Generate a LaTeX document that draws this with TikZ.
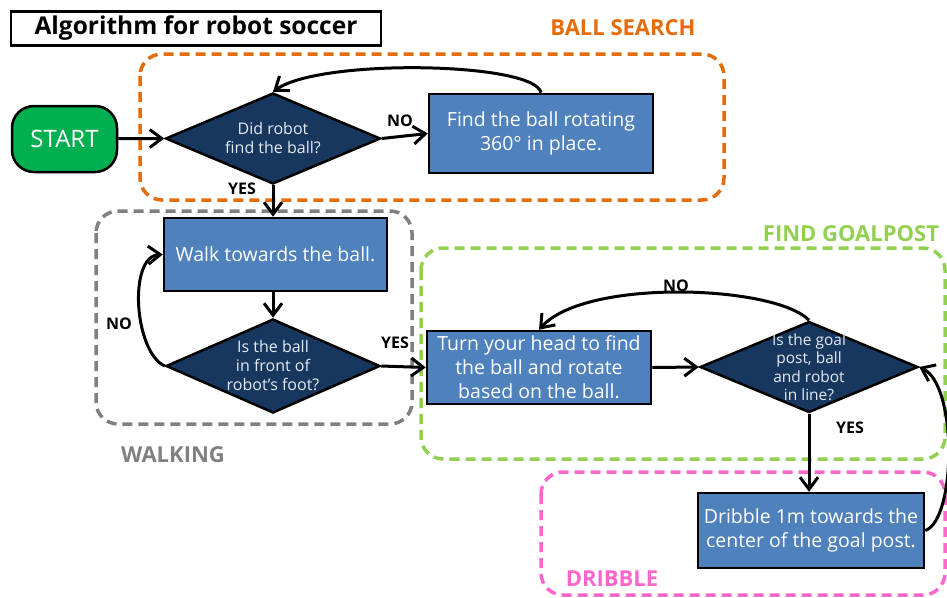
\documentclass[tikz,border=0pt]{standalone}
\usepackage{fontspec}
\setmainfont{Open Sans}
\usetikzlibrary{shapes.geometric,arrows.meta}
\definecolor{navy}{HTML}{17375E}
\definecolor{boxblue}{HTML}{4F81BD}
\definecolor{startgreen}{HTML}{00B050}
\definecolor{orangeg}{HTML}{E46C0A}
\definecolor{grayg}{HTML}{808080}
\definecolor{greeng}{HTML}{92D050}
\definecolor{pinkg}{HTML}{FF66CC}
\definecolor{dtext}{HTML}{E4EAF2}
\tikzset{
  group/.style={line width=3.5pt, dash pattern=on 10pt off 6pt, rounded corners=22pt},
  grouplbl/.style={font=\bfseries\fontsize{22}{26}\selectfont, inner sep=0pt},
  procbox/.style={rectangle, draw=black, line width=2.5pt, fill=boxblue, text=white,
    align=center, inner sep=0pt, font=\fontsize{19.5}{24}\selectfont},
  decision/.style={diamond, draw=black, line width=2.5pt, fill=navy, text=dtext,
    align=center, inner sep=0pt, aspect=2.35, font=\fontsize{16}{19}\selectfont},
  dtxt/.style={text=dtext, align=center, inner sep=0pt, font=\fontsize{15.5}{18.5}\selectfont},
  conn/.style={line width=3pt, draw=black},
  arr/.style={conn, -{Straight Barb[length=12pt,width=18pt]}},
  lbl/.style={font=\bfseries\fontsize{16}{18}\selectfont, inner sep=0pt},
}
\begin{document}
\begin{tikzpicture}[x=1pt,y=-1pt]
\useasboundingbox (0,0) rectangle (947,597);
% groups
\draw[group, orangeg] (140,54) rectangle (724,200);
\draw[group, grayg] (96,211) rectangle (412,424);
\draw[group, greeng] (421,248) rectangle (945,459);
\draw[group, pinkg] (541,472) rectangle (945,595);
\node[grouplbl, text=orangeg] (lbs) at (623,28) {BALL SEARCH};
\node[grouplbl, text=grayg] (lwk) at (173,455) {WALKING};
\node[grouplbl, text=greeng] (lfg) at (851,234) {FIND GOALPOST};
\node[grouplbl, text=pinkg] (ldr) at (612,579) {DRIBBLE};
% title
\node[draw=black, line width=2.5pt, minimum width=370pt, minimum height=34pt, inner sep=0pt,
  font=\bfseries\fontsize{24.5}{28}\selectfont] (title) at (196,28.5) {Algorithm for robot soccer};
% nodes
\node[rectangle, rounded corners=22pt, draw=black, line width=2.5pt, fill=startgreen, text=white,
  minimum width=105pt, minimum height=66pt, inner sep=0pt, font=\fontsize{24}{28}\selectfont] (start) at (64.5,139) {START};
\node[decision, minimum width=215pt, minimum height=91pt] (d1) at (273,138.5) {Did robot\\find the ball?};
\node[procbox, minimum width=224pt, minimum height=79pt] (find) at (541,133.5) {Find the ball rotating\\360° in place.};
\node[procbox, minimum width=223pt, minimum height=73pt] (walk) at (275.5,254.5) {Walk towards the ball.};
\node[decision, minimum width=214pt, minimum height=94pt] (d2) at (273,366) {Is the ball\\in front of\\robot’s foot?};
\node[procbox, minimum width=224pt, minimum height=73pt] (turn) at (539,367.5) {Turn your head to find\\the ball and rotate\\based on the ball.};
\node[decision, minimum width=218pt, minimum height=91pt] (d3) at (809,367) {};
\node[dtxt] (d3t) at (809,367) {Is the goal\\post, ball\\and robot\\in line?};
\node[procbox, minimum width=226pt, minimum height=75pt] (drib) at (811,530.5) {Dribble 1m towards the\\center of the goal post.};
% connectors
\draw[arr] (start) -- (d1.west);
\draw[arr] (d1.east) -- (find.west);
\draw[arr] (find.north) .. controls (535,62) and (320,58) .. (d1.north);
\draw[arr] (d1.south) -- (d1.south |- walk.north);
\draw[arr] (d2.north |- walk.south) -- (d2.north);
\draw[arr] (d2.west) .. controls (134,352) and (128,256) .. (walk.west);
\draw[arr] (d2.east) -- (turn.west);
\draw[arr] (turn.east) -- (d3.west);
\draw[arr] (d3.north) .. controls (775,285) and (585,278) .. (turn.north);
\draw[arr] (d3.south) -- (d3.south |- drib.north);
\draw[arr] (drib.east) .. controls (956,520) and (958,385) .. (d3.east);
% labels
\node[lbl] (noA) at (400,121) {NO};
\node[lbl] (yesA) at (242,189) {YES};
\node[lbl] (noB) at (119,324) {NO};
\node[lbl] (yesB) at (395,343) {YES};
\node[lbl] (noC) at (676,286) {NO};
\node[lbl] (yesC) at (850,428) {YES};
\end{tikzpicture}
\end{document}
